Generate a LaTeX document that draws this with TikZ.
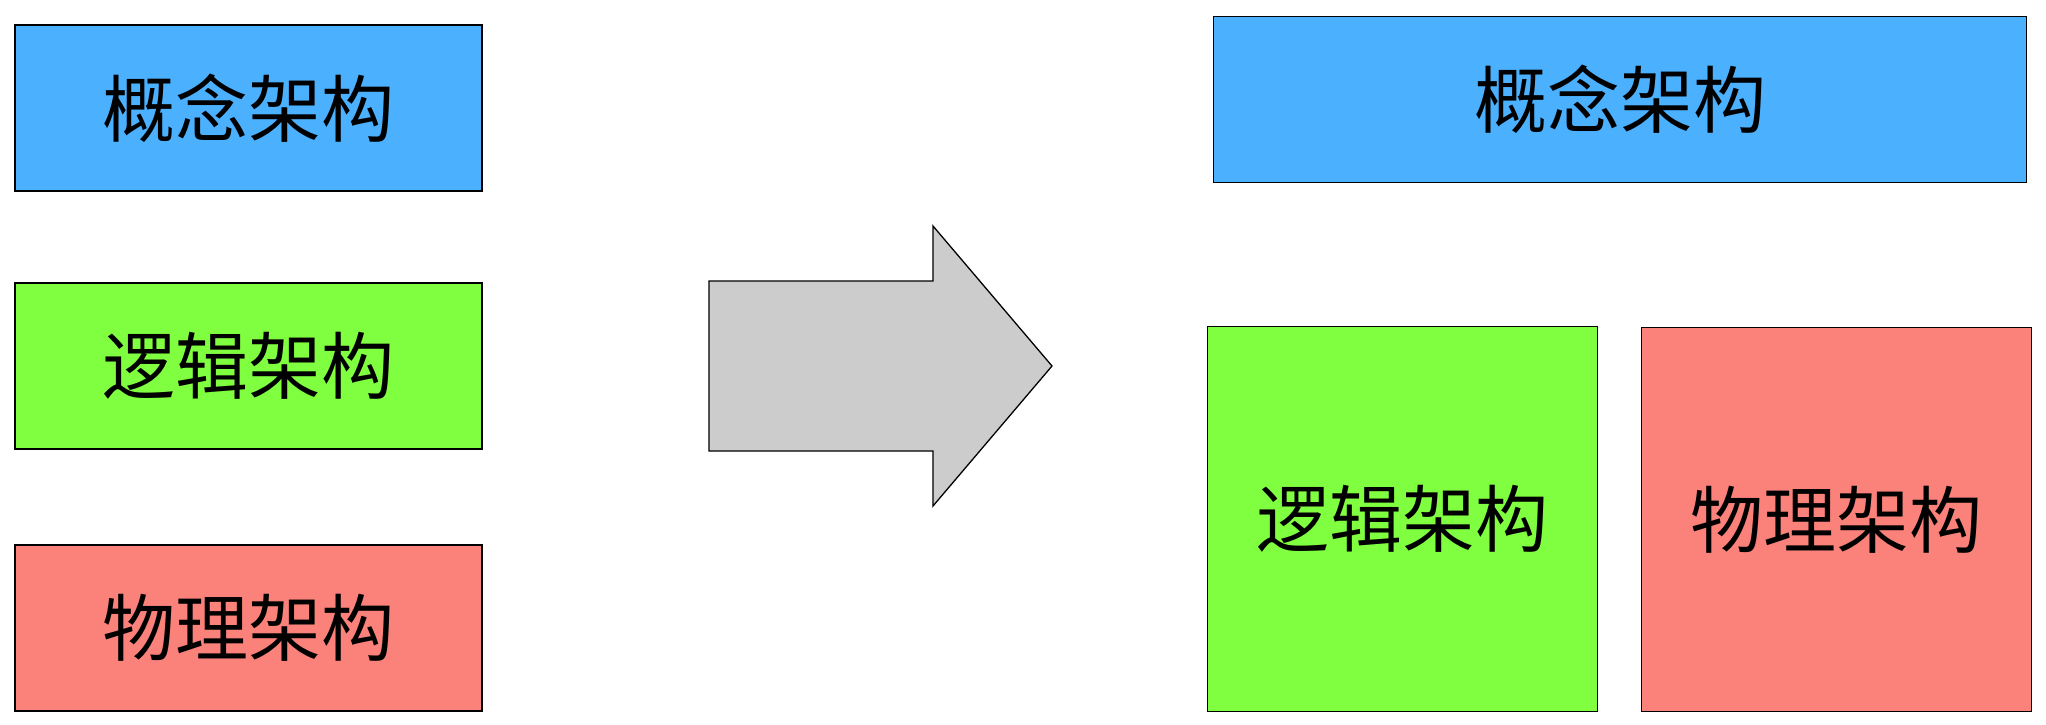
\documentclass[tikz,border=0pt]{standalone}
\usepackage{fontspec}
\setmainfont{Noto Sans CJK SC}
\usepackage{tikz}
\usetikzlibrary{positioning, calc}
\definecolor{conceptblue}{RGB}{75,177,255}
\definecolor{logicgreen}{RGB}{128,255,64}
\definecolor{physred}{RGB}{250,130,122}
\definecolor{arrowgray}{RGB}{204,204,204}
\tikzset{arch labels/.style={font=\fontsize{73}{80}\selectfont}}
\tikzset{every arch node/.style={draw,line width=1.3pt,inner sep=0pt,outer sep=0pt,arch labels}}
\tikzset{wide arch/.style={every arch node,minimum width=467pt,minimum height=166pt}}
\tikzset{tall arch/.style={every arch node,minimum width=390pt,minimum height=384pt}}

\begin{document}
\begin{tikzpicture}[x=1pt,y=-1pt]
                    \useasboundingbox (0,0) rectangle (2046,724);
                    % before: three layers stacked
                    \node[wide arch, fill=conceptblue](C1) at (248.5,108){概念架构};
                    \node[wide arch, fill=logicgreen](L1) at (248.5,366){逻辑架构};
                    \node[wide arch, fill=physred](P1) at (248.5,628){物理架构};

                    \draw[line width=1.3pt, fill=arrowgray] (709,281) -- (933,281) -- (933,226) -- (1052,366) -- (933,506) -- (933,451) -- (709,451) -- cycle;

                    % after: concept on top, logic and physical side by side
                    \node[wide arch, fill=conceptblue, minimum width=813pt](C2) at (1620,99.3){概念架构};
                    \node[tall arch, fill=logicgreen, minimum height=385pt](L2) at (1402.6,518.8){逻辑架构};
                    \node[tall arch, fill=physred](P2) at (1836.5,519.4){物理架构};

                \end{tikzpicture}
\end{document}
